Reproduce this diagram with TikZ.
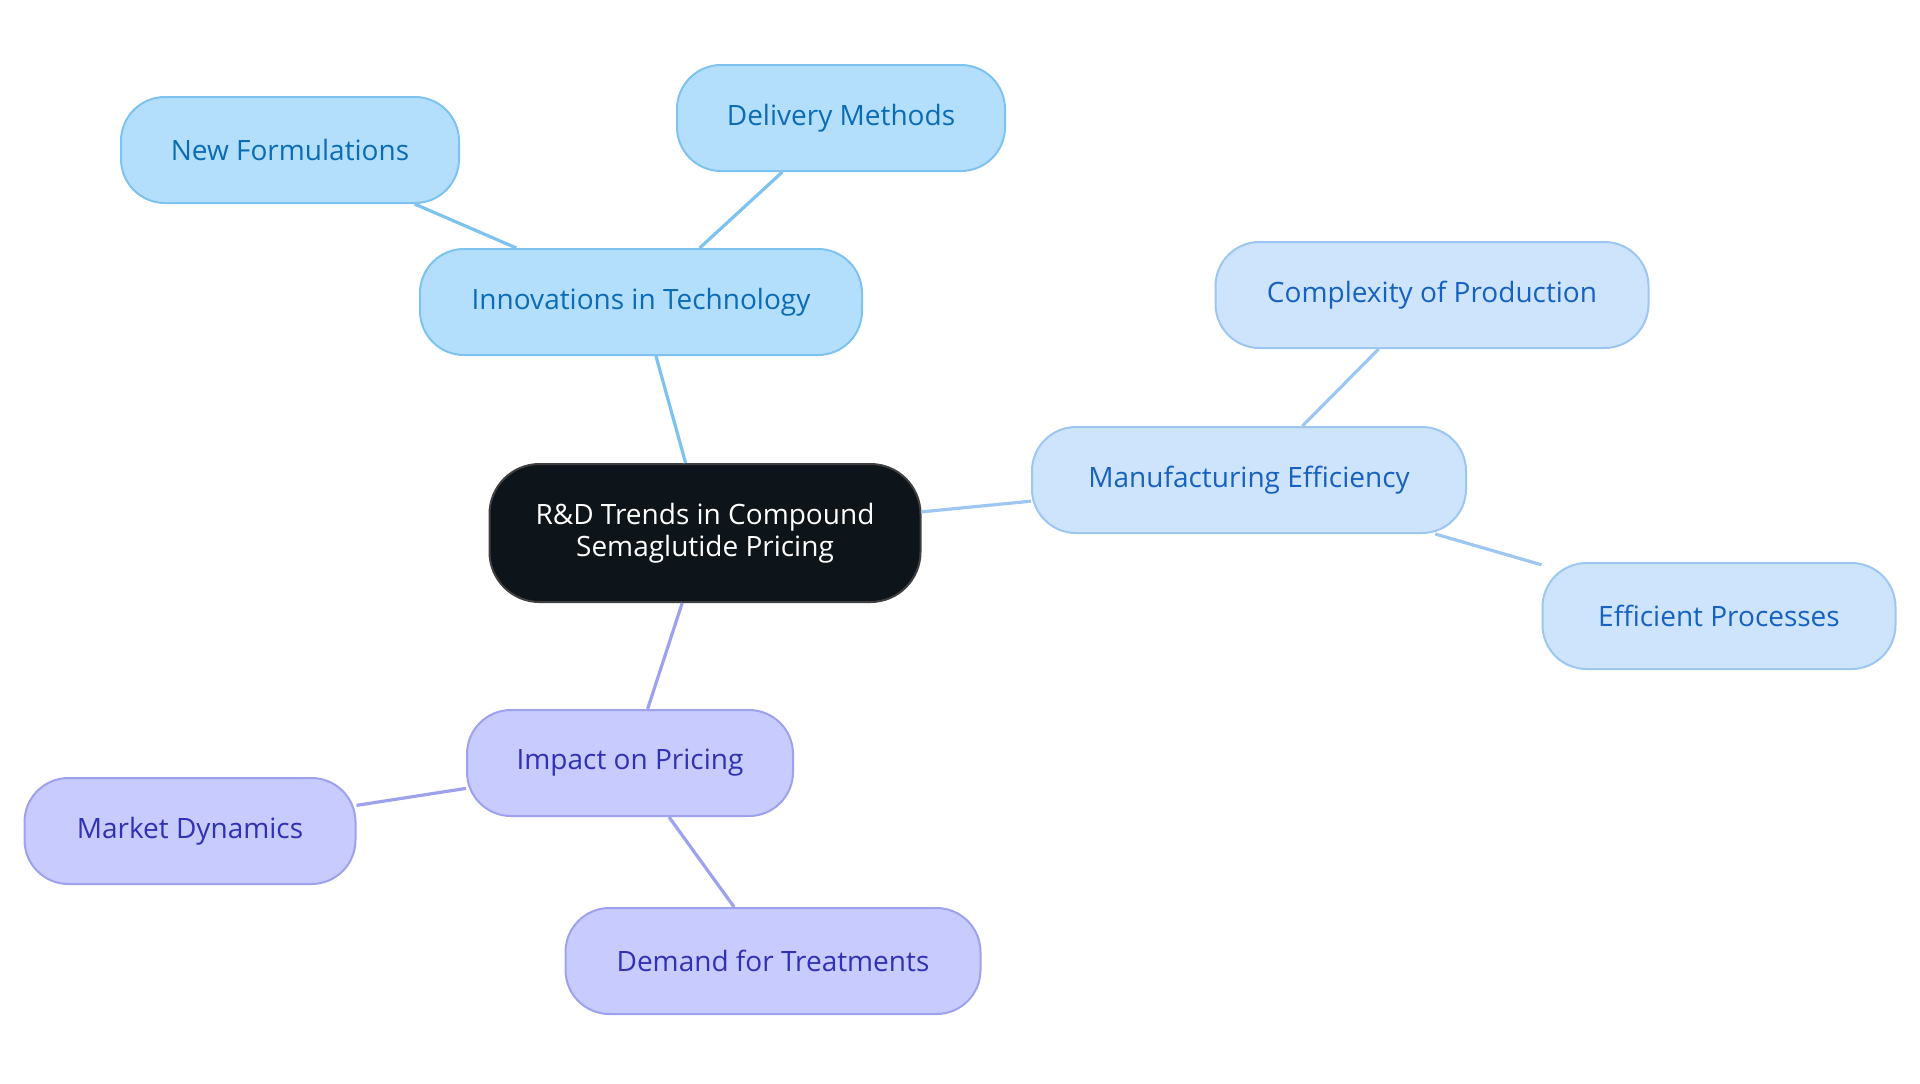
\documentclass[tikz,border=0pt]{standalone}
\usepackage{fontspec}
\setmainfont{Open Sans}
\usepackage{tikz}

\definecolor{techfill}{HTML}{B3DFFD}
\definecolor{techline}{HTML}{7EC2F0}
\definecolor{techtext}{HTML}{0B6CB5}
\definecolor{manuffill}{HTML}{CDE4FC}
\definecolor{manufline}{HTML}{9DC6F1}
\definecolor{manuftext}{HTML}{1761C0}
\definecolor{pricefill}{HTML}{C8CBFD}
\definecolor{priceline}{HTML}{9EA1EE}
\definecolor{pricetext}{HTML}{3131B3}
\definecolor{rootfill}{HTML}{0D141A}

\begin{document}
\begin{tikzpicture}[x=0.5pt,y=-0.5pt]
    \tikzstyle{every node}=[font=\fontsize{14}{16}\selectfont, inner sep=0pt,
    minimum height=53pt, rounded corners=22pt, line width=1pt, align=center]
    \tikzstyle{tech}=[draw=techline, fill=techfill, text=techtext]
    \tikzstyle{manuf}=[draw=manufline, fill=manuffill, text=manuftext]
    \tikzstyle{price}=[draw=priceline, fill=pricefill, text=pricetext]
    \tikzstyle{link}=[line width=1.6pt]
    \useasboundingbox (0,0) rectangle (1920,1083);

    \node[draw=black!75, fill=rootfill, text=white, minimum width=215.5pt,
    minimum height=69pt, rounded corners=25pt] (root) at (705,533)
    {R\&D Trends in Compound\\Semaglutide Pricing};

    \node[tech, minimum width=221pt] (tech) at (641,302) {Innovations in Technology};
    \node[tech, minimum width=169pt] (newform) at (290,150) {New Formulations};
    \node[tech, minimum width=164pt] (delivery) at (841,118) {Delivery Methods};

    \node[manuf, minimum width=217pt] (manuf) at (1249,480) {Manufacturing Efficiency};
    \node[manuf, minimum width=216.5pt] (complex) at (1432,295) {Complexity of Production};
    \node[manuf, minimum width=176.5pt] (effproc) at (1719,616) {Efficient Processes};

    \node[price, minimum width=163pt] (impact) at (630,763) {Impact on Pricing};
    \node[price, minimum width=165.5pt] (market) at (190,831) {Market Dynamics};
    \node[price, minimum width=207.5pt] (demand) at (773,961) {Demand for Treatments};

    \draw[link, techline] (root) -- (tech);
    \draw[link, techline] (tech) -- (newform);
    \draw[link, techline] (tech) -- (delivery);

    \draw[link, manufline] (root) -- (manuf);
    \draw[link, manufline] (manuf) -- (complex);
    \draw[link, manufline] (manuf) -- (effproc);

    \draw[link, priceline] (root) -- (impact);
    \draw[link, priceline] (impact) -- (market);
    \draw[link, priceline] (impact) -- (demand);

\end{tikzpicture}
\end{document}
